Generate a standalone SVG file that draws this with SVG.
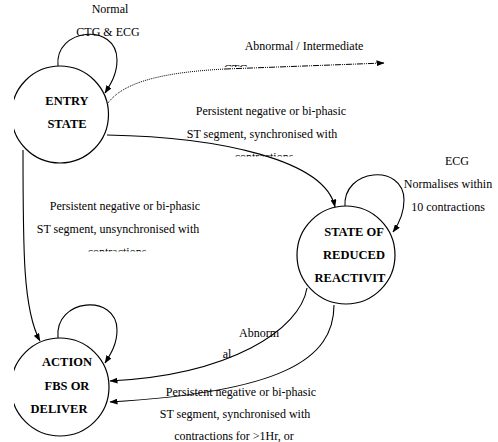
<svg xmlns="http://www.w3.org/2000/svg" width="498" height="442" viewBox="0 0 498 442">
<style>
  .lbl{font-family:"Liberation Serif","Times New Roman",serif;font-size:12px;fill:#000;text-anchor:middle}
  .st{font-family:"Liberation Serif","Times New Roman",serif;font-size:12.5px;font-weight:bold;fill:#000;text-anchor:middle}
  .node{fill:#fff;stroke:#000;stroke-width:1.2}
  .edge{fill:none;stroke:#000;stroke-width:1.1}
  .dot{fill:none;stroke:#000;stroke-width:1;stroke-dasharray:1,1}
</style>
<defs>
  <marker id="ah" markerWidth="8" markerHeight="6" refX="7.5" refY="3" orient="auto" markerUnits="userSpaceOnUse">
    <path d="M0,0 L8,3 L0,6 Z" fill="#000"/>
  </marker>
  <clipPath id="cl"><rect x="14" y="0" width="484" height="442"/></clipPath>
  <clipPath id="c1"><rect x="0" y="0" width="498" height="67"/></clipPath>
  <clipPath id="c2"><rect x="0" y="0" width="498" height="156.5"/></clipPath>
  <clipPath id="c3"><rect x="0" y="0" width="498" height="251.5"/></clipPath>
</defs>
<rect width="498" height="442" fill="#fff"/>

<g id="connectors">
  <path class="edge" d="M58,66 C54,28 117,22 117,60 C117,75 110,85 105,93" marker-end="url(#ah)"/>
  <path class="dot" d="M108,103 C125,80 170,72 225,69" />
  <path fill="none" stroke="#000" stroke-width="1" stroke-dasharray="6,1,1,1,1,1" d="M225,69 L384,63" marker-end="url(#ah)"/>
  <path class="edge" d="M107,135 C220,137 325,160 335,207" marker-end="url(#ah)"/>
  <path class="edge" d="M23,150 C23,250 23,310 40,341" marker-end="url(#ah)"/>
  <path class="edge" d="M345,207 C342,168 404,163 404,200 C404,215 398,225 393,232" marker-end="url(#ah)"/>
  <path class="edge" d="M58,338 C54,298 117,293 117,330 C117,345 110,355 105,363" marker-end="url(#ah)"/>
  <path class="edge" d="M307,288 C300,330 230,375 110,381" marker-end="url(#ah)"/>
  <path class="edge" d="M334,305 C334,360 280,392 110,402" marker-end="url(#ah)"/>
</g>

<g id="entry">
  <circle class="node" cx="60" cy="114.5" r="48.5" clip-path="url(#cl)"/>
  <text class="st" x="67" y="105">ENTRY</text>
  <text class="st" x="67" y="128">STATE</text>
</g>

<g id="reduced">
  <circle class="node" cx="346" cy="255" r="49"/>
  <text class="st" x="354" y="236">STATE OF</text>
  <text class="st" x="354" y="259">REDUCED</text>
  <text class="st" x="350" y="282">REACTIVIT</text>
</g>

<g id="action">
  <circle class="node" cx="60" cy="387" r="49" clip-path="url(#cl)"/>
  <text class="st" x="67" y="366">ACTION</text>
  <text class="st" x="67" y="390">FBS OR</text>
  <text class="st" x="59" y="413">DELIVER</text>
</g>

<g id="labels">
  <text class="lbl" x="110" y="13">Normal</text>
  <text class="lbl" x="108" y="36">CTG &amp; ECG</text>
  <text class="lbl" x="304" y="50">Abnormal / Intermediate</text>
  <text class="lbl" x="236" y="73" clip-path="url(#c1)">CTG</text>
  <text class="lbl" x="271" y="115">Persistent negative or bi-phasic</text>
  <text class="lbl" x="262" y="138">ST segment, synchronised with</text>
  <text class="lbl" x="264" y="161" clip-path="url(#c2)">contractions</text>
  <text class="lbl" x="457" y="165">ECG</text>
  <text class="lbl" x="448" y="188">Normalises within</text>
  <text class="lbl" x="448" y="211">10 contractions</text>
  <text class="lbl" x="125" y="210">Persistent negative or bi-phasic</text>
  <text class="lbl" x="118" y="233">ST segment, unsynchronised with</text>
  <text class="lbl" x="117" y="256" clip-path="url(#c3)">contractions</text>
  <text class="lbl" x="259" y="337">Abnorm</text>
  <text class="lbl" x="227" y="358">al</text>
  <text class="lbl" x="241" y="396">Persistent negative or bi-phasic</text>
  <text class="lbl" x="235" y="418">ST segment, synchronised with</text>
  <text class="lbl" x="234" y="440">contractions for &gt;1Hr, or</text>
</g>
</svg>
